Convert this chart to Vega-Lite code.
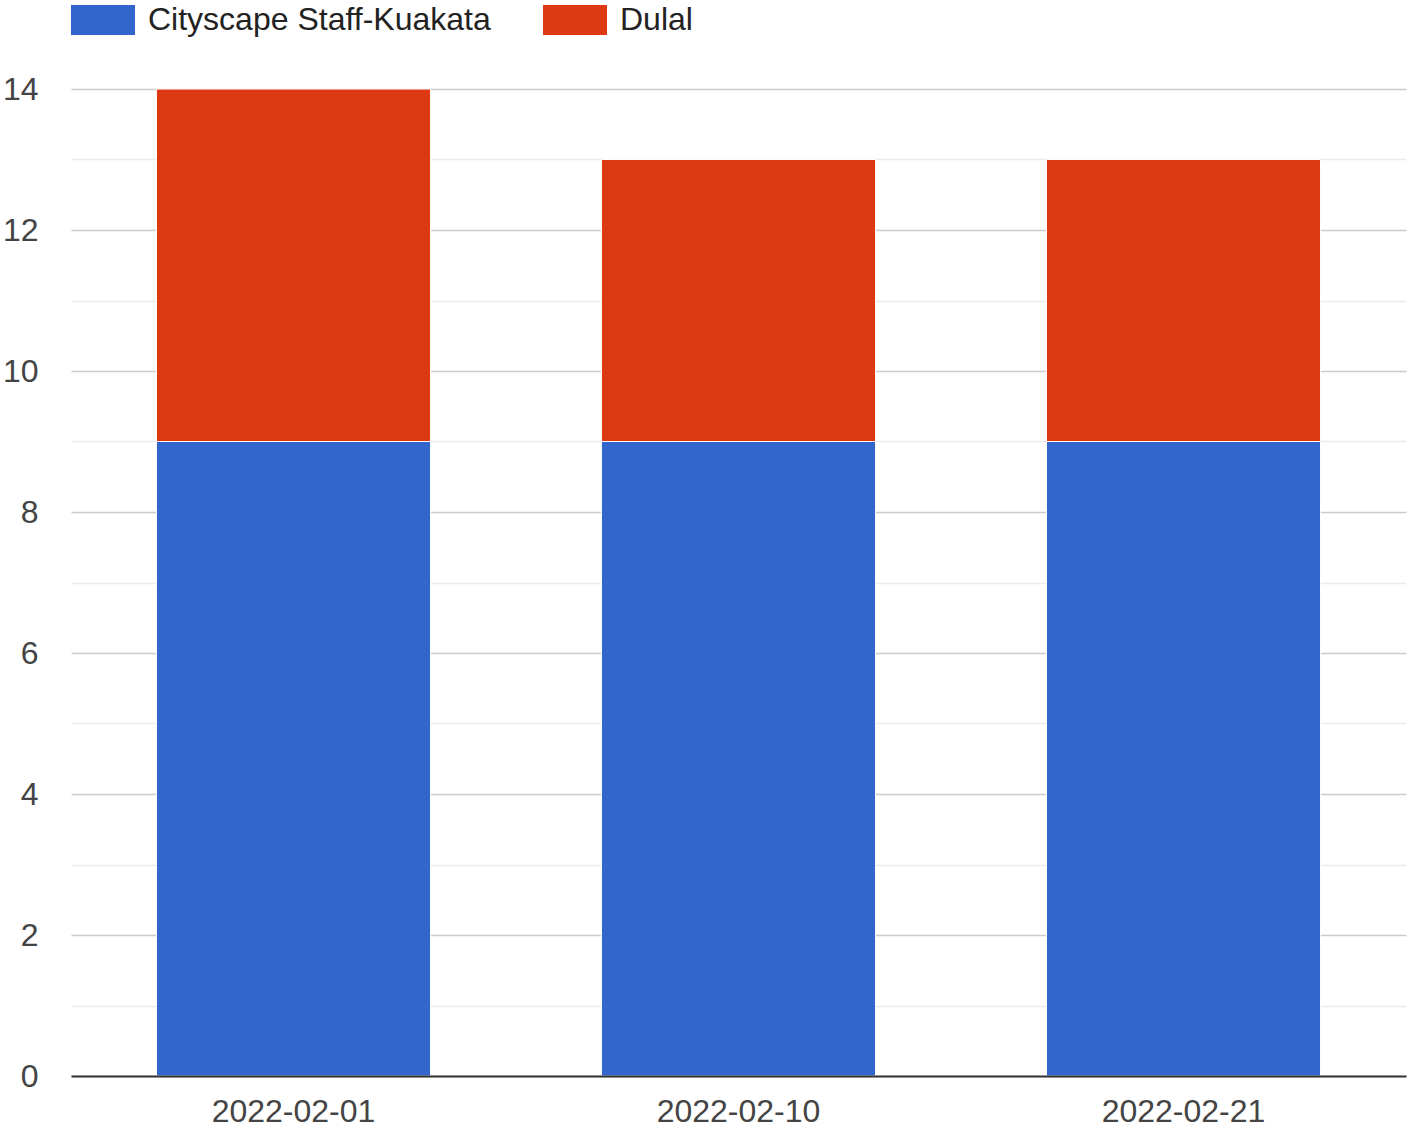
{
  "$schema": "https://vega.github.io/schema/vega-lite/v6.json",
  "width": 1335,
  "height": 987,
  "autosize": {"type": "none"},
  "padding": {"left": 71, "top": 89, "right": 2, "bottom": 55},
  "background": "white",
  "config": {
    "view": {"stroke": null},
    "font": "Liberation Sans"
  },
  "data": {
    "values": [
      {"date": "2022-02-01", "series": "Cityscape Staff-Kuakata", "value": 9},
      {"date": "2022-02-01", "series": "Dulal", "value": 5},
      {"date": "2022-02-10", "series": "Cityscape Staff-Kuakata", "value": 9},
      {"date": "2022-02-10", "series": "Dulal", "value": 4},
      {"date": "2022-02-21", "series": "Cityscape Staff-Kuakata", "value": 9},
      {"date": "2022-02-21", "series": "Dulal", "value": 4}
    ]
  },
  "mark": {"type": "bar", "stroke": "white", "strokeWidth": 1},
  "encoding": {
    "x": {
      "field": "date",
      "type": "nominal",
      "scale": {"paddingInner": 0.384, "paddingOuter": 0.192},
      "axis": {
        "title": null,
        "labelAngle": 0,
        "labelFontSize": 32,
        "labelColor": "#444444",
        "labelPadding": 20,
        "ticks": false,
        "domainColor": "#333333",
        "domainWidth": 2,
        "grid": false,
        "zindex": 1
      }
    },
    "y": {
      "field": "value",
      "type": "quantitative",
      "stack": "zero",
      "scale": {"domain": [0, 14], "nice": false},
      "axis": {
        "title": null,
        "values": [0, 1, 2, 3, 4, 5, 6, 7, 8, 9, 10, 11, 12, 13, 14],
        "labelExpr": "datum.value % 2 === 0 ? datum.label : ''",
        "labelFontSize": 32,
        "labelColor": "#444444",
        "labelPadding": 33,
        "ticks": false,
        "domain": false,
        "grid": true,
        "gridColor": {"condition": {"test": "datum.value % 2 === 0", "value": "#cccccc"}, "value": "#ebebeb"},
        "gridWidth": 1.5
      }
    },
    "order": {"field": "series", "sort": "ascending"},
    "color": {
      "field": "series",
      "type": "nominal",
      "scale": {"domain": ["Cityscape Staff-Kuakata", "Dulal"], "range": ["#3366cc", "#dc3912"]},
      "legend": {
        "title": null,
        "orient": "none",
        "legendX": 0,
        "legendY": -101,
        "direction": "horizontal",
        "symbolType": "M-1,-0.469H1V0.469H-1Z",
        "symbolSize": 4096,
        "symbolStrokeWidth": 0,
        "symbolOpacity": 1,
        "labelFontSize": 32,
        "labelColor": "#222222",
        "labelLimit": 0,
        "labelOffset": 13,
        "columnPadding": 52,
        "padding": 0
      }
    }
  }
}
